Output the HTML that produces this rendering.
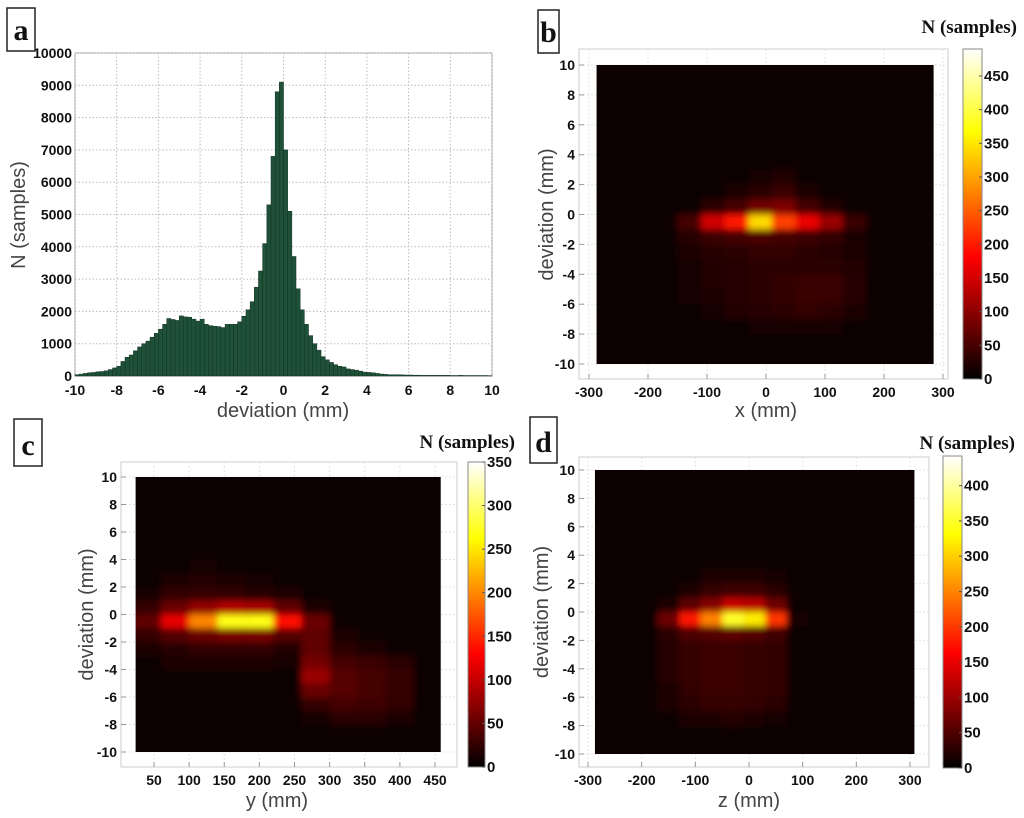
<!DOCTYPE html>
<html><head><meta charset="utf-8">
<style>
html,body{margin:0;padding:0;background:#fff;}
svg{display:block;}
.tick{font-family:"Liberation Sans",sans-serif;font-weight:bold;font-size:14px;fill:#111;}
.atitle{font-family:"Liberation Sans",sans-serif;font-size:20px;fill:#444;}
.ntitle{font-family:"Liberation Serif",serif;font-weight:bold;font-size:19px;fill:#111;}
.letter{font-family:"Liberation Serif",serif;font-weight:bold;font-size:30px;fill:#111;}
</style></head>
<body>
<svg id="fig" width="1024" height="818" viewBox="0 0 1024 818" xmlns="http://www.w3.org/2000/svg">
<defs>
<filter id="blur" x="-10%" y="-10%" width="120%" height="120%"><feGaussianBlur stdDeviation="3.5"/></filter>
<linearGradient id="hot" x1="0" y1="1" x2="0" y2="0">
<stop offset="0" stop-color="#000"/><stop offset="0.37" stop-color="#f00"/><stop offset="0.75" stop-color="#ff0"/><stop offset="1" stop-color="#fff"/>
</linearGradient>
</defs>
</svg>
<script>
// ===== Panel a: histogram data =====
const histBinStart = -10;
const histBinWidth = 0.2;
const histCounts = [40,60,80,100,110,130,140,160,200,250,300,450,580,650,780,900,1000,1080,1200,1320,1450,1600,1780,1750,1720,1860,1830,1820,1760,1700,1760,1600,1560,1540,1530,1500,1600,1600,1600,1680,1850,2050,2300,2750,3250,4100,5300,6800,8800,9100,7000,5100,3700,2700,2050,1600,1250,1000,800,600,500,420,350,300,280,220,200,180,150,120,110,100,80,60,50,40,40,40,35,30,30,25,25,20,20,20,20,20,20,20,15,15,20,15,15,15,15,15,15,10];
const histXTicks = [-10,-8,-6,-4,-2,0,2,4,6,8,10];
const histYTicks = [0,1000,2000,3000,4000,5000,6000,7000,8000,9000,10000];

// ===== Panel b: deviation vs x =====
const bXCenters = [-170,-130,-90,-50,-10,30,70,110,150,190];
const bDevCenters = [3.5,2.5,1.5,0.5,-0.5,-1.5,-2.5,-3.5,-4.5,-5.5,-6.5,-7.5];
const bCountsR0 = [0,0,0,3,6,12,3,0,0,0];
const bCountsR1 = [0,0,3,10,15,25,10,3,0,0];
const bCountsR2 = [0,3,10,20,30,40,20,6,3,0];
const bCountsR3 = [3,12,30,50,80,90,50,25,10,3];
const bCountsR4 = [10,50,150,200,340,230,170,110,40,8];
const bCountsR5 = [12,28,42,50,55,50,42,35,20,6];
const bCountsR6 = [10,20,28,32,35,35,32,28,20,6];
const bCountsR7 = [6,18,25,28,32,32,32,32,25,6];
const bCountsR8 = [6,18,25,28,32,35,40,40,28,6];
const bCountsR9 = [3,14,20,28,32,35,42,40,28,6];
const bCountsR10 = [3,10,18,25,28,32,35,32,20,3];
const bCountsR11 = [0,3,6,10,14,18,18,14,6,0];
const bXTicks = [-300,-200,-100,0,100,200,300];
const bCbarTicks = [0,50,100,150,200,250,300,350,400,450];

// ===== Panel c: deviation vs y =====
const cYCenters = [40,80,120,160,200,240,280,320,360,400,440];
const cDevCenters = [3.5,2.5,1.5,0.5,-0.5,-1.5,-2.5,-3.5,-4.5,-5.5,-6.5,-7.5,-8.5];
const cCountsR0 = [0,6,10,6,3,3,0,0,0,0,0];
const cCountsR1 = [3,14,18,14,10,6,3,0,0,0,0];
const cCountsR2 = [10,25,28,25,20,15,8,3,0,0,0];
const cCountsR3 = [28,55,75,90,85,50,15,3,0,0,0];
const cCountsR4 = [50,120,200,270,270,140,55,8,3,0,0];
const cCountsR5 = [28,42,55,62,62,42,50,15,8,3,0];
const cCountsR6 = [14,20,25,25,25,18,50,22,15,8,0];
const cCountsR7 = [6,14,14,14,14,10,60,35,30,22,3];
const cCountsR8 = [3,6,6,6,6,6,80,45,35,28,3];
const cCountsR9 = [0,3,3,3,3,3,55,45,35,28,3];
const cCountsR10 = [0,0,0,0,0,3,28,35,32,25,3];
const cCountsR11 = [0,0,0,0,0,0,10,22,22,14,0];
const cCountsR12 = [0,0,0,0,0,0,3,6,6,3,0];
const cXTicks = [50,100,150,200,250,300,350,400,450];
const cCbarTicks = [0,50,100,150,200,250,300,350];

// ===== Panel d: deviation vs z =====
const dZCenters = [-190,-150,-110,-70,-30,10,50,90,130,170];
const dDevCenters = [3.5,2.5,1.5,0.5,-0.5,-1.5,-2.5,-3.5,-4.5,-5.5,-6.5,-7.5,-8.5];
const dCountsR0 = [0,0,3,6,10,10,6,0,0,0];
const dCountsR1 = [0,3,10,18,20,20,14,0,0,0];
const dCountsR2 = [0,6,20,35,40,40,28,3,0,0];
const dCountsR3 = [3,20,60,85,130,120,70,6,0,0];
const dCountsR4 = [8,70,180,250,350,320,200,15,0,0];
const dCountsR5 = [6,28,50,55,62,55,42,6,0,0];
const dCountsR6 = [6,25,35,38,38,35,32,6,0,0];
const dCountsR7 = [6,25,35,38,38,35,32,6,0,0];
const dCountsR8 = [6,25,35,38,38,35,32,6,0,0];
const dCountsR9 = [3,20,32,38,38,35,32,6,0,0];
const dCountsR10 = [3,18,28,35,35,32,28,3,0,0];
const dCountsR11 = [0,6,18,20,25,20,14,0,0,0];
const dCountsR12 = [0,0,3,6,6,6,3,0,0,0];
const dXTicks = [-300,-200,-100,0,100,200,300];
const dCbarTicks = [0,50,100,150,200,250,300,350,400];

const devTicks = [-10,-8,-6,-4,-2,0,2,4,6,8,10];

const NS = "http://www.w3.org/2000/svg";
const svg = document.getElementById('fig');
function mk(tag, attrs, parent){
  const e = document.createElementNS(NS, tag);
  for (const k in attrs) e.setAttribute(k, attrs[k]);
  (parent||svg).appendChild(e);
  return e;
}
function lin(d0,d1,r0,r1){ return v => r0 + (v-d0)/(d1-d0)*(r1-r0); }
function hot(f){
  f = Math.max(0, Math.min(1, f));
  const r = Math.min(1, f/0.375), g = Math.max(0, Math.min(1,(f-0.375)/0.375)), b = Math.max(0,(f-0.75)/0.25);
  return 'rgb('+Math.max(12,Math.round(r*255))+','+Math.round(g*255)+','+Math.round(b*255)+')';
}
function letter(ch, x, y, w, h){
  const g = mk('g', {});
  
  
  mk('rect', {x:x, y:y, width:w, height:h, fill:'#fff', stroke:'#222', 'stroke-width':1.5}, g);
  const t = mk('text', {x:x+w/2, y:y+h-11, 'text-anchor':'middle', class:'letter'}, g);
  t.textContent = ch;
}

// ---------- Panel a ----------
(function(){
  const X = lin(-10,10,75,492), Y = lin(0,10000,376,53);
  const g = mk('g', {});
  
  
  mk('rect', {x:75, y:53, width:417, height:323, fill:'#fff', stroke:'#999', 'stroke-width':1}, g);
  histXTicks.forEach(v => {
    const l = mk('line', {x1:X(v), x2:X(v), y1:53, y2:376, stroke:'#bbb', 'stroke-dasharray':'1.5,2'}, g);
    
    
    const t = mk('text', {x:X(v), y:395, 'text-anchor':'middle', class:'tick'}, g);
    
    
    t.textContent = v;
  });
  histYTicks.forEach(v => {
    const l = mk('line', {x1:75, x2:492, y1:Y(v), y2:Y(v), stroke:'#bbb', 'stroke-dasharray':'1.5,2'}, g);
    
    
    const t = mk('text', {x:72, y:Y(v)+5, 'text-anchor':'end', class:'tick'}, g);
    
    
    t.textContent = v;
  });
  histCounts.forEach((c,i) => {
    const x0 = histBinStart + i*histBinWidth;
    const r = mk('rect', {x:X(x0), y:Y(c), width:X(x0+histBinWidth)-X(x0), height:Y(0)-Y(c), fill:'#1f5138', stroke:'#123224', 'stroke-width':0.5}, g);
    
    
  });
  const xt = mk('text', {x:283, y:417, 'text-anchor':'middle', class:'atitle'}, g);
  
  
  xt.textContent = 'deviation (mm)';
  const yt = mk('text', {x:0, y:0, 'text-anchor':'middle', class:'atitle', transform:'translate(25,215) rotate(-90)'}, g);
  
  
  yt.textContent = 'N (samples)';
})();
letter('a', 7, 8, 28, 43);

// ---------- Heatmap panels ----------
function heatmap(o){
  const g = mk('g', {});
  
  
  const X = lin(o.xd[0], o.xd[1], o.xr[0], o.xr[1]);
  const Y = lin(10, -10, o.y10, o.ym10);
  mk('rect', {x:o.fr[0], y:o.fr[1], width:o.fr[2]-o.fr[0], height:o.fr[3]-o.fr[1], fill:'#fff', stroke:'#ccc', 'stroke-width':1}, g);
  o.xticks.forEach(v => {
    mk('line', {x1:X(v), x2:X(v), y1:o.fr[1], y2:o.fr[3], stroke:'#e4e4e4', 'stroke-dasharray':'2,2'}, g);
    mk('line', {x1:X(v), x2:X(v), y1:o.fr[3], y2:o.fr[3]-5, stroke:'#999'}, g);
    const t = mk('text', {x:X(v), y:o.fr[3]+18, 'text-anchor':'middle', class:'tick'}, g);
    
    
    t.textContent = v;
  });
  devTicks.forEach(v => {
    mk('line', {x1:o.fr[0], x2:o.fr[2], y1:Y(v), y2:Y(v), stroke:'#e4e4e4', 'stroke-dasharray':'2,2'}, g);
    mk('line', {x1:o.fr[0], x2:o.fr[0]+5, y1:Y(v), y2:Y(v), stroke:'#999'}, g);
    const t = mk('text', {x:o.fr[0]-4, y:Y(v)+5, 'text-anchor':'end', class:'tick'}, g);
    
    
    t.textContent = v;
  });
  const ix0 = X(o.img[0]), ix1 = X(o.img[1]);
  const cid = 'clip-'+o.name;
  const cp = mk('clipPath', {id:cid}, svg.querySelector('defs'));
  mk('rect', {x:ix0, y:Y(10), width:ix1-ix0, height:Y(-10)-Y(10)}, cp);
  const bg = mk('rect', {x:ix0, y:Y(10), width:ix1-ix0, height:Y(-10)-Y(10), fill:'#0c0000'}, g);
  
  
  const cg = mk('g', {'clip-path':'url(#'+cid+')'}, g);
  const bl = mk('g', {filter:'url(#blur)'}, cg);
  mk('rect', {x:ix0-20, y:Y(10)-20, width:ix1-ix0+40, height:Y(-10)-Y(10)+40, fill:'#0c0000'}, bl);
  o.rows.forEach((row, ri) => {
    const dv = o.devs[ri];
    row.forEach((c, ci) => {
      if (c <= 0) return;
      const xc = o.cols[ci];
      const x0 = X(xc - o.cw/2), x1 = X(xc + o.cw/2);
      const r = mk('rect', {x:x0, y:Y(dv+0.5), width:x1-x0, height:Y(dv-0.5)-Y(dv+0.5), fill:hot(c/o.max)}, bl);
      
      
    });
  });
  const cb = o.cb;
  const CY = lin(0, o.max, cb.y1, cb.y0);
  const cbr = mk('rect', {x:cb.x0, y:cb.y0, width:cb.x1-cb.x0, height:cb.y1-cb.y0, fill:'url(#hot)', stroke:'#888', 'stroke-width':1}, g);
  
  
  o.cbticks.forEach(v => {
    mk('line', {x1:cb.x1-3, x2:cb.x1, y1:CY(v), y2:CY(v), stroke:'#555'}, g);
    const t = mk('text', {x:cb.x1+2, y:CY(v)+5, class:'tick', style:'font-size:15px'}, g);
    
    
    t.textContent = v;
  });
  const nt = mk('text', {x:o.nt[0], y:o.nt[1], 'text-anchor':'end', class:'ntitle'}, g);
  
  
  nt.textContent = 'N (samples)';
  const xt = mk('text', {x:X(o.xtc), y:o.xty, 'text-anchor':'middle', class:'atitle'}, g);
  
  
  xt.textContent = o.xlabel;
  const yt = mk('text', {x:0, y:0, 'text-anchor':'middle', class:'atitle', transform:'translate('+o.ytx+','+Y(0)+') rotate(-90)'}, g);
  
  
  yt.textContent = 'deviation (mm)';
}

heatmap({name:'heatmap-panel-b', xd:[-300,300], xr:[589,943], y10:65, ym10:364, fr:[579,49,948,379],
  img:[-287,284], cols:bXCenters, cw:40, devs:bDevCenters,
  rows:[bCountsR0,bCountsR1,bCountsR2,bCountsR3,bCountsR4,bCountsR5,bCountsR6,bCountsR7,bCountsR8,bCountsR9,bCountsR10,bCountsR11],
  max:490, xticks:bXTicks, cbticks:bCbarTicks, cb:{x0:963,x1:982,y0:49,y1:379},
  nt:[1017,33], xlabel:'x (mm)', xtc:0, xty:417, ytx:553});

heatmap({name:'heatmap-panel-c', xd:[50,450], xr:[154,435], y10:477, ym10:752, fr:[121,462,457,767],
  img:[24,458], cols:cYCenters, cw:40, devs:cDevCenters,
  rows:[cCountsR0,cCountsR1,cCountsR2,cCountsR3,cCountsR4,cCountsR5,cCountsR6,cCountsR7,cCountsR8,cCountsR9,cCountsR10,cCountsR11,cCountsR12],
  max:350, xticks:cXTicks, cbticks:cCbarTicks, cb:{x0:468,x1:485,y0:462,y1:767},
  nt:[515,448], xlabel:'y (mm)', xtc:225, xty:807, ytx:93});

heatmap({name:'heatmap-panel-d', xd:[-300,300], xr:[588,910], y10:470, ym10:754, fr:[579,457,929,767],
  img:[-287,308], cols:dZCenters, cw:40, devs:dDevCenters,
  rows:[dCountsR0,dCountsR1,dCountsR2,dCountsR3,dCountsR4,dCountsR5,dCountsR6,dCountsR7,dCountsR8,dCountsR9,dCountsR10,dCountsR11,dCountsR12],
  max:442, xticks:dXTicks, cbticks:dCbarTicks, cb:{x0:943,x1:962,y0:456,y1:768},
  nt:[1015,449], xlabel:'z (mm)', xtc:0, xty:807, ytx:548});

letter('b', 538, 10, 21, 43);
letter('c', 14, 419, 28, 47);
letter('d', 530, 417, 27, 46);
</script>
</body></html>
